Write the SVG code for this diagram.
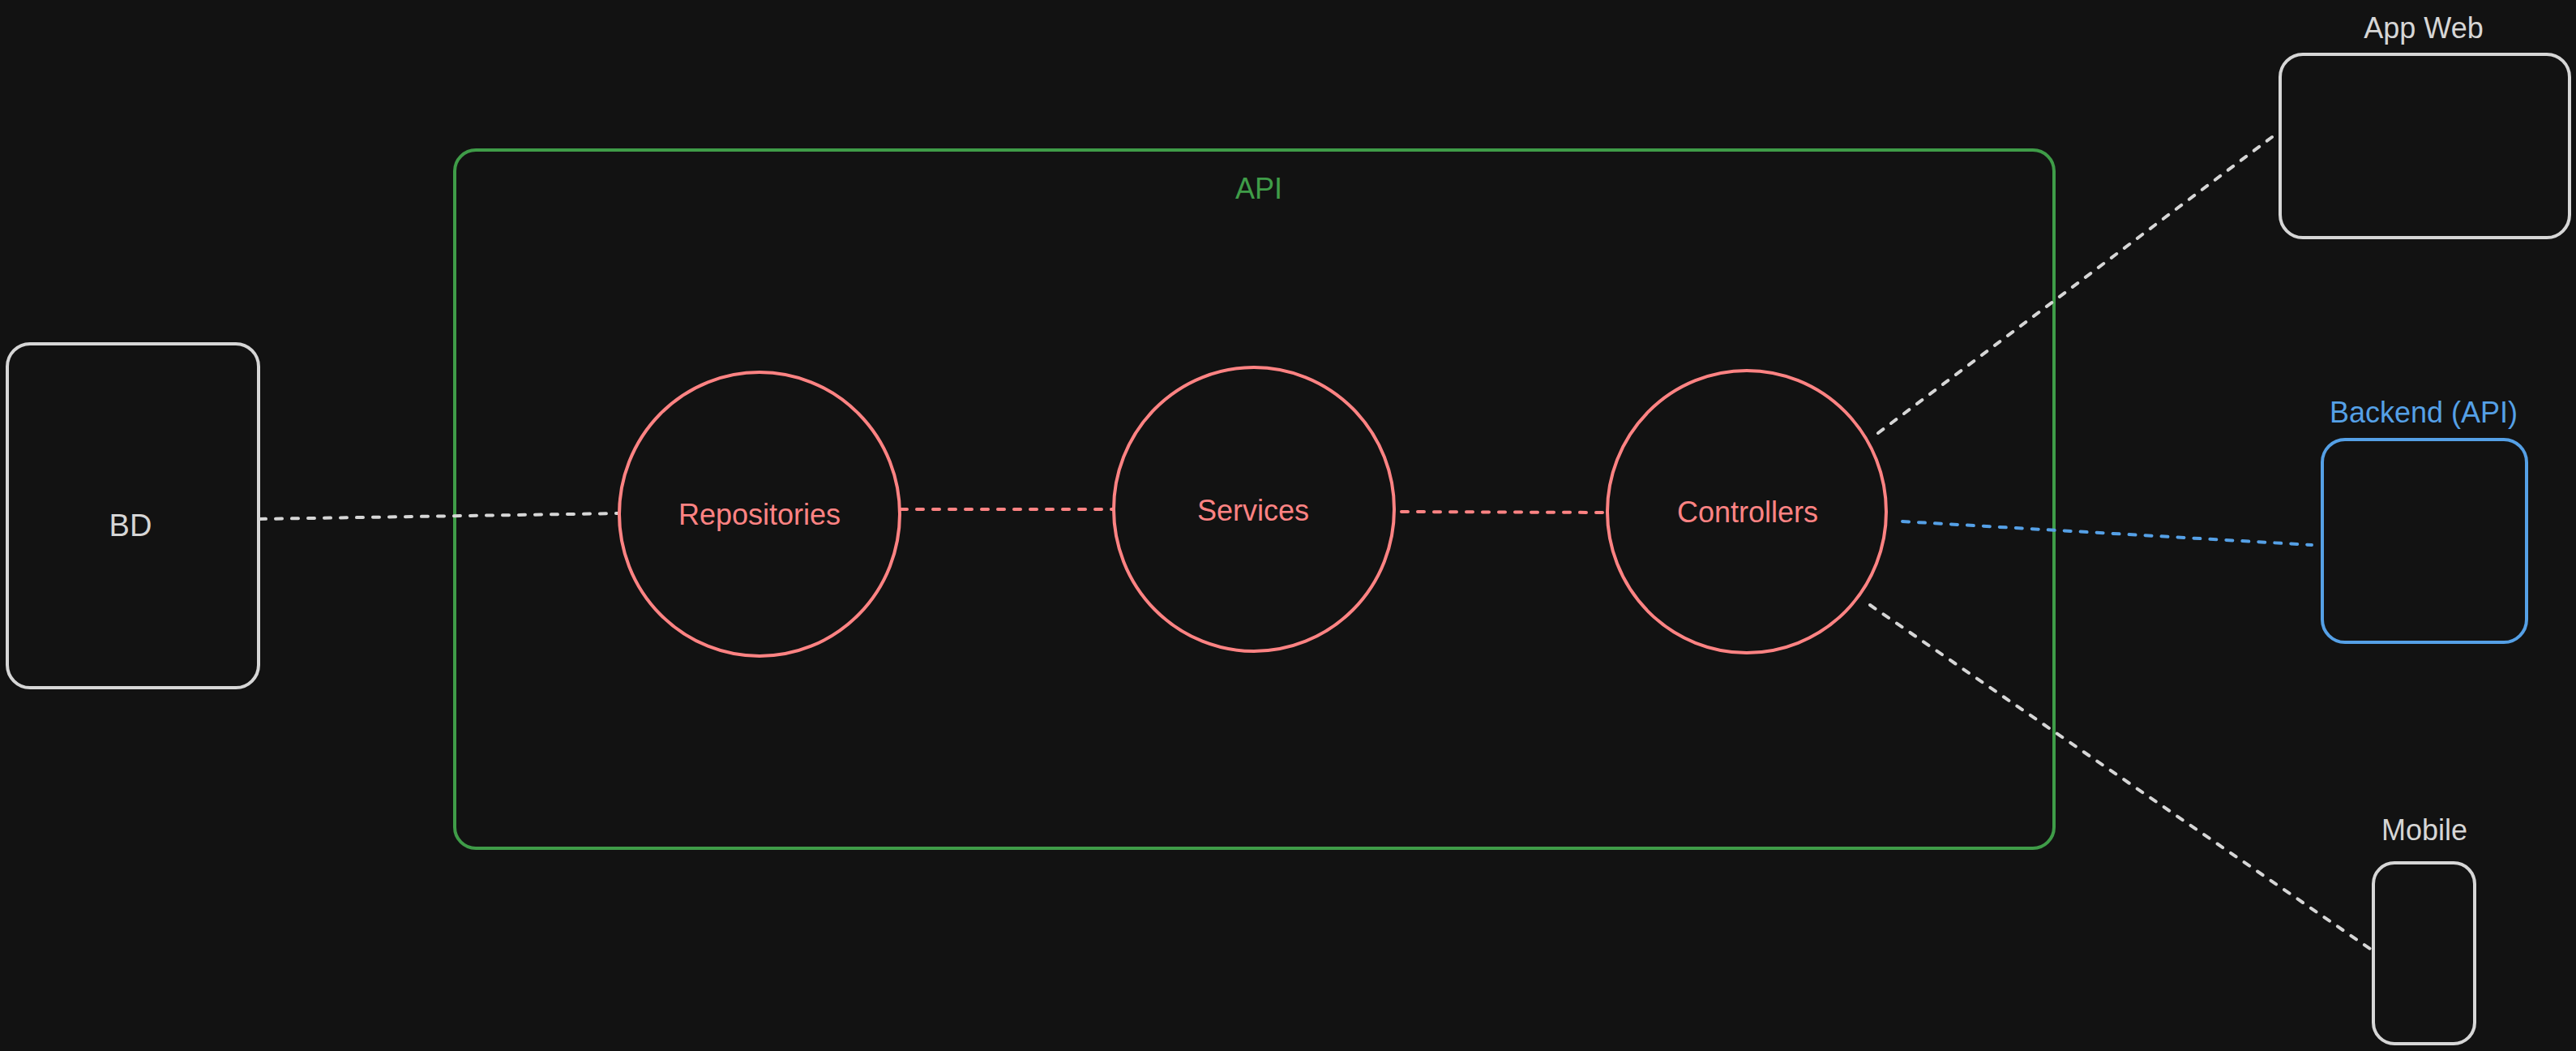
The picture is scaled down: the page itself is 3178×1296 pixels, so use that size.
<svg xmlns="http://www.w3.org/2000/svg" width="3178" height="1296" viewBox="0 0 3178 1296">
<style>
.lbl{font-family:"Liberation Sans","DejaVu Sans",sans-serif;font-size:36px;text-anchor:middle;dominant-baseline:central}
.w{fill:#d6d6d6}
.r{fill:#ff8383}
.g{fill:#3f9c48}
.b{fill:#55a0e6}
.box{fill:none;stroke-width:4}
.dash{fill:none;stroke-width:4;stroke-dasharray:8 12;stroke-linecap:round}
</style>
<rect width="3178" height="1296" fill="#121212"/>
<g id="api-group">
<rect x="561" y="185" width="1973" height="861" rx="26" class="box" stroke="#3f9c48" stroke-width="4.5"/>
<text x="1553" y="232" class="lbl g">API</text>
</g>
<g id="connectors">
<line x1="320" y1="640" x2="764" y2="633" class="dash" stroke="#d6d6d6"/>
<line x1="1111" y1="628" x2="1374" y2="628" class="dash" stroke="#ff8383"/>
<line x1="1729" y1="631" x2="1982" y2="632" class="dash" stroke="#ff8383"/>
<line x1="2317" y1="534" x2="2803" y2="169" class="dash" stroke="#d6d6d6"/>
<line x1="2347" y1="643" x2="2852" y2="672" class="dash" stroke="#55a0e6"/>
<line x1="2307" y1="746" x2="2924" y2="1170" class="dash" stroke="#d6d6d6"/>
</g>
<g id="bd">
<rect x="9" y="424" width="310" height="424" rx="28" class="box" stroke="#d6d6d6"/>
<text x="161" y="648" class="lbl w" style="font-size:38px">BD</text>
</g>
<g id="repositories">
<ellipse cx="937" cy="634" rx="173" ry="175" class="box" stroke="#ff8383"/>
<text x="937" y="634" class="lbl r">Repositories</text>
</g>
<g id="services">
<ellipse cx="1547" cy="628" rx="173" ry="175" class="box" stroke="#ff8383"/>
<text x="1546" y="629" class="lbl r">Services</text>
</g>
<g id="controllers">
<ellipse cx="2155" cy="631" rx="172" ry="174" class="box" stroke="#ff8383"/>
<text x="2156" y="631" class="lbl r">Controllers</text>
</g>
<g id="app-web">
<rect x="2813" y="67" width="357" height="226" rx="28" class="box" stroke="#d6d6d6"/>
<text x="2990" y="34" class="lbl w">App Web</text>
</g>
<g id="backend">
<rect x="2865" y="542" width="252" height="250" rx="28" class="box" stroke="#55a0e6"/>
<text x="2990" y="508" class="lbl b">Backend (API)</text>
</g>
<g id="mobile">
<rect x="2928" y="1064" width="125" height="223" rx="26" class="box" stroke="#d6d6d6"/>
<text x="2991" y="1023" class="lbl w">Mobile</text>
</g>
</svg>
